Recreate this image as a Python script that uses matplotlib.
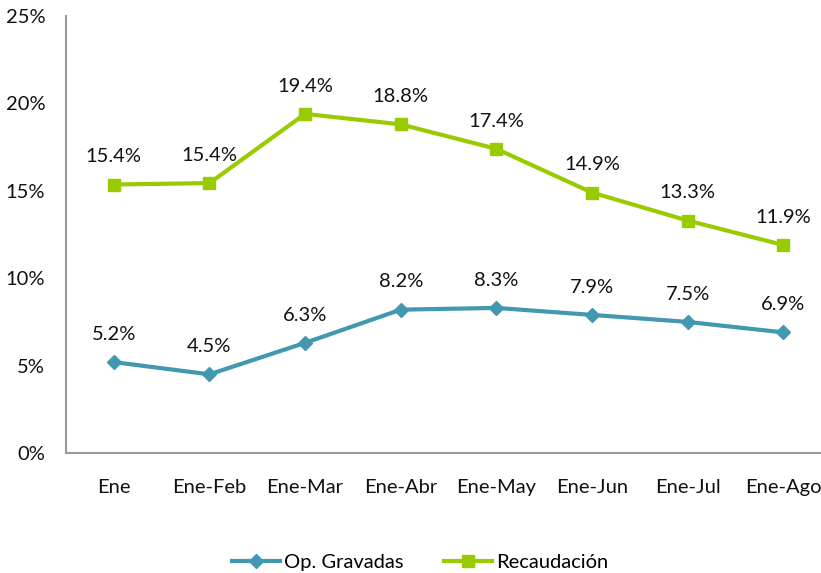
import matplotlib
matplotlib.use("Agg")
import matplotlib.pyplot as plt

categories = ["Ene", "Ene-Feb", "Ene-Mar", "Ene-Abr", "Ene-May", "Ene-Jun", "Ene-Jul", "Ene-Ago"]
op_gravadas = [5.2, 4.5, 6.3, 8.2, 8.3, 7.9, 7.5, 6.9]
recaudacion = [15.36, 15.44, 19.4, 18.8, 17.4, 14.9, 13.3, 11.9]
yticks = [0, 5, 10, 15, 20, 25]

plt.rcParams['font.family'] = ['Lato', 'DejaVu Sans']

fig = plt.figure(figsize=(8.21, 5.73), dpi=100)
ax = fig.add_axes([66/821, 120/573, 765/821, 437/573])

x = list(range(len(categories)))
blue = "#4198B0"
green = "#99CC00"

ax.plot(x, op_gravadas, color=blue, lw=3, marker="D", markersize=7, label="Op. Gravadas", zorder=3)
ax.plot(x, recaudacion, color=green, lw=3, marker="s", markersize=9, label="Recaudación", zorder=3)

for xi, v in zip(x, op_gravadas):
    ax.annotate(f"{v:.1f}%", (xi, v), xytext=(0, 20), textcoords="offset points",
                ha="center", va="center", fontsize=14.5, color="#111111")
for xi, v in zip(x, recaudacion):
    ax.annotate(f"{v:.1f}%", (xi, v), xytext=(0, 20), textcoords="offset points",
                ha="center", va="center", fontsize=14.5, color="#111111")

ax.set_xlim(-0.5, len(categories) - 0.5)
ax.set_ylim(0, 25)
ax.set_yticks(yticks)
ax.set_yticklabels([f"{t}%" for t in yticks])
ax.set_xticks(x)
ax.set_xticklabels(categories)
ax.tick_params(axis="both", length=0, labelsize=14.5, colors="#111111")
ax.tick_params(axis="y", pad=15)
ax.tick_params(axis="x", pad=19)

for s in ["top", "right"]:
    ax.spines[s].set_visible(False)
for s in ["left", "bottom"]:
    ax.spines[s].set_color("#999999")
    ax.spines[s].set_linewidth(1.5)

leg = fig.legend(loc="center", bbox_to_anchor=(420/821, 1 - 562/573), ncol=2, frameon=False,
                 fontsize=14.5, handlelength=2.4, columnspacing=2.0, handletextpad=0.2)

fig.savefig("out.png", dpi=100)
